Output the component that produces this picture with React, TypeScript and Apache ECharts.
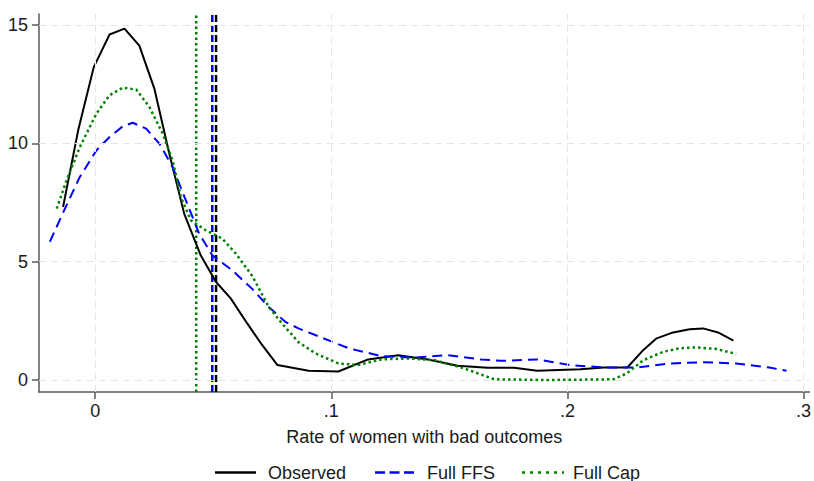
import React, { useEffect, useRef } from "react";
import * as echarts from "echarts";

const xTicks = [0, 0.1, 0.2, 0.3];
const yTicks = [0, 5, 10, 15];

const observed: [number, number][] = [
  [-0.0136, 7.31], [-0.0072, 10.55], [-0.0006, 13.22], [0.0061, 14.6], [0.0124, 14.85],
  [0.0187, 14.13], [0.0251, 12.3], [0.0314, 9.56], [0.0377, 7.03], [0.0447, 5.27],
  [0.0511, 4.15], [0.0574, 3.45], [0.0644, 2.39], [0.0707, 1.48], [0.0772, 0.63],
  [0.0904, 0.39], [0.103, 0.36], [0.1156, 0.87], [0.1283, 1.05], [0.141, 0.87],
  [0.1535, 0.6], [0.1662, 0.52], [0.1774, 0.52], [0.1872, 0.39], [0.2055, 0.45],
  [0.2153, 0.53], [0.2254, 0.53], [0.2322, 1.27], [0.2378, 1.76], [0.2448, 2.01],
  [0.2518, 2.14], [0.2575, 2.18], [0.2638, 2.01], [0.2703, 1.66],
];

const fullFFS: [number, number][] = [
  [-0.0192, 5.84], [-0.0128, 7.24], [-0.0065, 8.58], [0.0005, 9.7], [0.0061, 10.27],
  [0.0117, 10.72], [0.0159, 10.87], [0.0216, 10.62], [0.0272, 9.99], [0.0328, 9.0],
  [0.0384, 7.59], [0.044, 6.19], [0.0496, 5.27], [0.058, 4.64], [0.0665, 3.85],
  [0.0735, 3.09], [0.0805, 2.46], [0.0861, 2.18], [0.0932, 1.9], [0.1074, 1.34],
  [0.1212, 1.01], [0.1353, 0.94], [0.1493, 1.05], [0.1634, 0.87], [0.1718, 0.81],
  [0.1872, 0.87], [0.2013, 0.63], [0.2153, 0.53], [0.2294, 0.53], [0.2434, 0.7],
  [0.2575, 0.75], [0.2715, 0.7], [0.2855, 0.53], [0.2928, 0.39],
];

const fullCap: [number, number][] = [
  [-0.0163, 7.24], [-0.0121, 8.44], [-0.0065, 9.84], [0.0005, 11.25], [0.0061, 12.03],
  [0.0117, 12.35], [0.0174, 12.27], [0.023, 11.53], [0.0286, 10.41], [0.0328, 9.28],
  [0.0363, 7.73], [0.0405, 6.75], [0.0468, 6.33], [0.0538, 5.98], [0.0595, 5.35],
  [0.0665, 4.4], [0.0735, 3.09], [0.0791, 2.39], [0.0861, 1.6], [0.0932, 1.13],
  [0.103, 0.7], [0.1114, 0.63], [0.1212, 0.87], [0.1325, 0.91], [0.1437, 0.84],
  [0.1563, 0.49], [0.169, 0.03], [0.1914, 0.0], [0.2195, 0.03], [0.2252, 0.28],
  [0.2322, 0.84], [0.2406, 1.19], [0.2476, 1.34], [0.2546, 1.38], [0.2631, 1.31],
  [0.2715, 1.1],
];

const meanObserved = 0.0512;
const meanFullFFS = 0.0496;
const meanFullCap = 0.0428;

const legendNames = ["Observed", "Full FFS", "Full Cap"];

const X_MIN = -0.02379;
const X_MAX = 0.30253;
const Y_MIN = -0.507;
const Y_MAX = 15.465;

const FONT = "Liberation Sans, Arial, sans-serif";
const TEXT = "#1a1a1a";
const AXIS = "#5a5a5a";

const vline = (x: number): [number, number][] => [
  [x, Y_MIN],
  [x, Y_MAX],
];

export default function App() {
  const ref = useRef<HTMLDivElement>(null);
  useEffect(() => {
    const chart = echarts.init(ref.current!, null, { renderer: "svg" });
    const gridLine = { color: "#e6e6e6", width: 1, type: [7, 5] as any };
    const legendY = 472.5;
    chart.setOption({
      animation: false,
      backgroundColor: "#fff",
      grid: { left: 39, top: 14, right: 0, bottom: 89, containLabel: false },
      xAxis: {
        type: "value",
        min: X_MIN,
        max: X_MAX,
        splitLine: { show: false },
        axisLine: { show: true, onZero: false, lineStyle: { color: AXIS, width: 1.5 } },
        axisTick: { show: true, customValues: xTicks, length: 7, lineStyle: { color: AXIS, width: 1.5 } },
        axisLabel: {
          customValues: xTicks,
          margin: 10,
          color: TEXT,
          fontSize: 18,
          fontFamily: FONT,
          formatter: (v: number) => (Math.abs(v) < 1e-9 ? "0" : "." + Math.round(v * 10)),
        },
        name: "Rate of women with bad outcomes",
        nameLocation: "middle",
        nameGap: 36,
        nameTextStyle: { color: TEXT, fontSize: 18, fontFamily: FONT },
      },
      yAxis: {
        type: "value",
        min: Y_MIN,
        max: Y_MAX,
        splitLine: { show: false },
        axisLine: { show: true, onZero: false, lineStyle: { color: AXIS, width: 1.5 } },
        axisTick: { show: true, customValues: yTicks, length: 7, lineStyle: { color: AXIS, width: 1.5 } },
        axisLabel: {
          customValues: yTicks,
          margin: 11,
          color: TEXT,
          fontSize: 18,
          fontFamily: FONT,
        },
      },
      graphic: [
        { type: "line", shape: { x1: 215, y1: legendY, x2: 256, y2: legendY }, style: { stroke: "#000", lineWidth: 2.5 } },
        { type: "text", x: 268, y: legendY, style: { text: legendNames[0], fill: TEXT, font: `18px ${FONT}`, verticalAlign: "middle" } },
        { type: "line", shape: { x1: 375, y1: legendY, x2: 414, y2: legendY }, style: { stroke: "#0000ff", lineWidth: 2.5, lineDash: [10, 4.5] } },
        { type: "text", x: 427, y: legendY, style: { text: legendNames[1], fill: TEXT, font: `18px ${FONT}`, verticalAlign: "middle" } },
        { type: "line", shape: { x1: 522, y1: legendY, x2: 564, y2: legendY }, style: { stroke: "#008000", lineWidth: 2.5, lineDash: [3, 5] } },
        { type: "text", x: 573, y: legendY, style: { text: legendNames[2], fill: TEXT, font: `18px ${FONT}`, verticalAlign: "middle" } },
      ],
      series: [
        {
          name: "grid",
          type: "line",
          data: [[0, 0]],
          symbol: "none",
          silent: true,
          z: 1,
          lineStyle: { width: 0 },
          markLine: {
            silent: true,
            symbol: "none",
            label: { show: false },
            lineStyle: gridLine,
            emphasis: { disabled: true },
            data: [
              ...xTicks.map((v) => ({ xAxis: v })),
              ...yTicks.map((v) => ({ yAxis: v })),
            ],
          },
        },
        {
          name: "Full Cap mean",
          type: "line",
          data: vline(meanFullCap),
          symbol: "none",
          silent: true,
          z: 2,
          lineStyle: { color: "#008000", width: 2.5, type: [2.5, 3] },
        },
        {
          name: "Full FFS mean",
          type: "line",
          data: vline(meanFullFFS),
          symbol: "none",
          silent: true,
          z: 2,
          lineStyle: { color: "#0000ff", width: 2.5, type: [7, 3] },
        },
        {
          name: "Observed mean",
          type: "line",
          data: vline(meanObserved),
          symbol: "none",
          silent: true,
          z: 2,
          lineStyle: { color: "#000", width: 2.5, type: [7, 3] },
        },
        {
          name: legendNames[0],
          type: "line",
          data: observed,
          symbol: "none",
          z: 3,
          lineStyle: { color: "#000", width: 2 },
        },
        {
          name: legendNames[1],
          type: "line",
          data: fullFFS,
          symbol: "none",
          z: 4,
          lineStyle: { color: "#0000ff", width: 2, type: [10, 6] },
        },
        {
          name: legendNames[2],
          type: "line",
          data: fullCap,
          symbol: "none",
          z: 5,
          lineStyle: { color: "#008000", width: 2.5, type: [2.5, 3] },
        },
      ],
    });
    return () => chart.dispose();
  }, []);
  return (
    <div
      ref={ref}
      style={{ position: "fixed", left: 0, top: 0, width: 814, height: 481, background: "#fff" }}
    />
  );
}
